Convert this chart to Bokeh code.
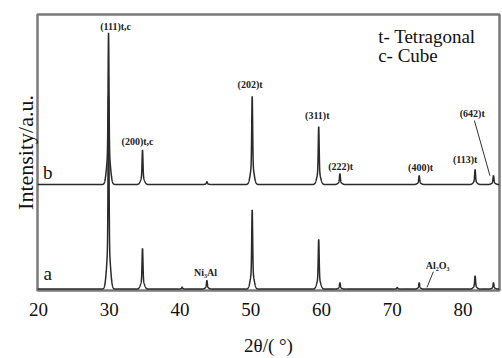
import numpy as np
from bokeh.plotting import figure
from bokeh.models import FixedTicker, Range1d, ColumnDataSource
from bokeh.core.properties import value
from bokeh.embed import file_html
from bokeh.resources import INLINE

# ---- data ----
x_ticks = [20, 30, 40, 50, 60, 70, 80]

peaks_b_pos = [29.9, 34.7, 43.8, 50.2, 59.6, 62.6, 73.8, 81.7, 84.3]
peaks_b_h   = [55.0, 12.5, 1.0, 32.0, 21.0, 3.9, 3.2, 5.4, 3.2]
base_b = 38.4

peaks_a_pos = [29.9, 34.7, 40.3, 43.8, 50.2, 59.6, 62.6, 70.7, 73.8, 81.7, 84.3]
peaks_a_h   = [70.0, 14.8, 0.7, 3.1, 28.7, 18.0, 2.3, 0.6, 2.3, 4.8, 2.3]
base_a = 0.5

peak_labels   = ["(111)t,c", "(200)t,c", "(202)t", "(311)t", "(222)t", "(400)t", "(113)t", "(642)t"]
peak_label_x  = [30.9, 34.0, 49.9, 59.4, 62.7, 74.0, 80.3, 81.3]
peak_label_y  = [95.7, 54.1, 74.7, 63.3, 44.8, 44.5, 47.3, 64.1]

phase_labels  = ["Ni\u2083Al", "Al\u2082O\u2083"]
phase_label_x = [43.6, 76.4]
phase_label_y = [6.4, 8.9]

leader_x0 = [81.6, 75.8]
leader_y0 = [61.6, 6.8]
leader_x1 = [83.8, 74.9]
leader_y1 = [41.6, 1.1]

series_names   = ["b", "a"]
series_label_x = [21.3, 21.3]
series_label_y = [42.7, 6.0]

legend_lines = ["t- Tetragonal", "c- Cube"]
legend_x = [68.0, 68.0]
legend_y = [92.2, 85.1]

x_min, x_max = 19.86, 85.15
y_min, y_max = 0, 100

def profile(xs, pos, h, base):
    y = np.full_like(xs, base)
    for p, hh in zip(pos, h):
        d = xs - p
        y += hh * (0.78 * np.exp(-(d / 0.09) ** 2) + 0.22 * np.exp(-(d / 0.35) ** 2))
    return y

xs = np.arange(x_min, x_max, 0.01)
yb = profile(xs, peaks_b_pos, peaks_b_h, base_b)
ya = profile(xs, peaks_a_pos, peaks_a_h, base_a)

SERIF = "'Liberation Serif', 'Times New Roman', serif"

p = figure(width=502, height=358, output_backend="svg", toolbar_location=None,
           x_range=Range1d(x_min, x_max), y_range=Range1d(y_min, y_max),
           min_border_left=37, min_border_right=3, min_border_top=14, min_border_bottom=63)
p.background_fill_color = "white"
p.border_fill_color = "white"
p.outline_line_color = "#7a7a7a"
p.outline_line_width = 2.5
p.grid.visible = False

p.line(xs, ya, line_color="#2a2a2a", line_width=1.5)
p.line(xs, yb, line_color="#2a2a2a", line_width=1.5)

src = ColumnDataSource(dict(x=peak_label_x, y=peak_label_y, t=peak_labels))
p.text(x="x", y="y", text="t", source=src, text_font=value(SERIF), text_font_size="10px",
       text_font_style="bold", text_align="center", text_baseline="middle", text_color="#222222")
src2 = ColumnDataSource(dict(x=phase_label_x, y=phase_label_y, t=phase_labels))
p.text(x="x", y="y", text="t", source=src2, text_font=value(SERIF), text_font_size="10px",
       text_font_style="bold", text_align="center", text_baseline="middle", text_color="#222222")
p.segment(x0=leader_x0, y0=leader_y0, x1=leader_x1, y1=leader_y1, line_color="#333333", line_width=1)

src3 = ColumnDataSource(dict(x=series_label_x, y=series_label_y, t=series_names))
p.text(x="x", y="y", text="t", source=src3, text_font=value(SERIF), text_font_size="19px",
       text_align="center", text_baseline="middle", text_color="#111111")

src4 = ColumnDataSource(dict(x=legend_x, y=legend_y, t=legend_lines))
p.text(x="x", y="y", text="t", source=src4, text_font=value(SERIF), text_font_size="19px",
       text_align="left", text_baseline="middle", text_color="#111111")

p.xaxis.ticker = FixedTicker(ticks=x_ticks)
p.xaxis.major_tick_line_color = None
p.xaxis.minor_tick_line_color = None
p.xaxis.axis_line_color = None
p.xaxis.major_label_text_font = SERIF
p.xaxis.major_label_text_font_size = "19px"
p.xaxis.major_label_text_color = "#111111"
p.xaxis.major_label_standoff = 6
p.xaxis.axis_label = "2\u03b8/( \u00b0)"
p.xaxis.axis_label_text_font = SERIF
p.xaxis.axis_label_text_font_style = "normal"
p.xaxis.axis_label_text_font_size = "19px"
p.xaxis.axis_label_text_color = "#111111"
p.xaxis.axis_label_standoff = 16

p.yaxis.ticker = FixedTicker(ticks=[])
p.yaxis.major_tick_line_color = None
p.yaxis.minor_tick_line_color = None
p.yaxis.axis_line_color = None
p.yaxis.axis_label = "Intensity/a.u."
p.yaxis.axis_label_text_font = SERIF
p.yaxis.axis_label_text_font_style = "normal"
p.yaxis.axis_label_text_font_size = "22px"
p.yaxis.axis_label_text_color = "#111111"
p.yaxis.axis_label_standoff = 0

open("out.html", "w").write(file_html(p, INLINE))
